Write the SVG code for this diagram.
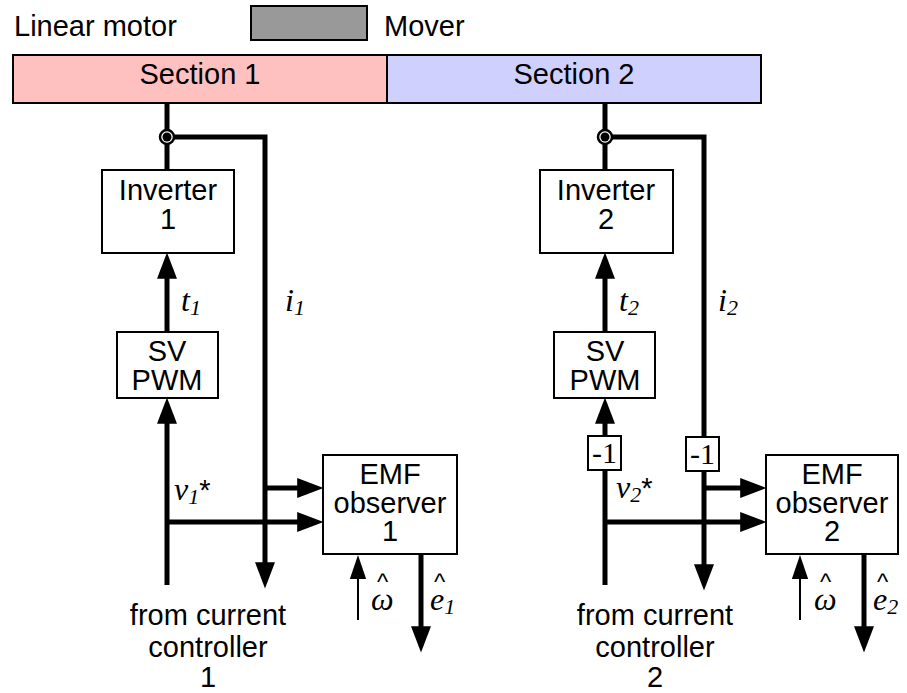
<svg xmlns="http://www.w3.org/2000/svg" width="907" height="693" viewBox="0 0 907 693">
<defs>
<style>
.t{font-family:"Liberation Sans",Arial,sans-serif;font-size:29px;fill:#000}
.c{text-anchor:middle}
.m{font-family:"Liberation Serif","Times New Roman",serif;font-style:italic;font-size:32px;fill:#000}
.n{font-family:"Liberation Serif","Times New Roman",serif;font-size:30px;fill:#000;text-anchor:middle}
.hat{font-family:"Liberation Sans",Arial,sans-serif;font-size:24px;fill:#000}
.box{fill:#fff;stroke:#000;stroke-width:2}
.w{fill:none;stroke:#000;stroke-width:5;stroke-linejoin:miter}
.thin{fill:none;stroke:#000;stroke-width:2}
</style>
<marker id="ah" markerUnits="userSpaceOnUse" markerWidth="27" markerHeight="20" refX="15" refY="9.5" orient="auto" viewBox="0 0 25 19">
<path d="M0,0 L25,9.5 L0,19 z" fill="#000"/>
</marker>
<marker id="ahs" markerUnits="userSpaceOnUse" markerWidth="24" markerHeight="18" refX="12" refY="7.5" orient="auto" viewBox="0 0 22 15">
<path d="M0,0 L22,7.5 L0,15 z" fill="#000"/>
</marker>
</defs>
<rect width="907" height="693" fill="#fff"/>

<g id="legend">
<text class="t" x="14" y="36">Linear motor</text>
<rect x="251" y="6" width="116" height="34" fill="#999" stroke="#000" stroke-width="2"/>
<text class="t" x="384" y="36">Mover</text>
</g>

<g id="section1">
<rect x="13" y="55" width="374" height="48" fill="#ffc0c0" stroke="#000" stroke-width="2"/>
<text class="t c" x="200" y="84">Section 1</text>
</g>
<g id="section2">
<rect x="387" y="55" width="374" height="48" fill="#d0d0ff" stroke="#000" stroke-width="2"/>
<text class="t c" x="574" y="84">Section 2</text>
</g>

<g id="connectors">
<!-- left -->
<line class="w" x1="167" y1="103" x2="167" y2="170"/>
<polyline class="w" points="167,137 265,137 265,578" marker-end="url(#ah)"/>
<line class="w" x1="167" y1="332" x2="167" y2="263" marker-end="url(#ah)"/>
<line class="w" x1="167" y1="585" x2="167" y2="408" marker-end="url(#ah)"/>
<line class="w" x1="167" y1="522" x2="313" y2="522" marker-end="url(#ah)"/>
<line class="w" x1="265" y1="488" x2="313" y2="488" marker-end="url(#ah)"/>
<line class="thin" x1="358" y1="620" x2="358" y2="566" marker-end="url(#ahs)"/>
<line class="w" x1="421" y1="554" x2="421" y2="642" marker-end="url(#ah)"/>
<circle cx="167" cy="137" r="7" fill="#fff" stroke="#000" stroke-width="2.5"/>
<circle cx="167" cy="137" r="4.5" fill="#000"/>
<!-- right -->
<line class="w" x1="605" y1="103" x2="605" y2="170"/>
<polyline class="w" points="605,137 704,137 704,580" marker-end="url(#ah)"/>
<line class="w" x1="605" y1="332" x2="605" y2="263" marker-end="url(#ah)"/>
<line class="w" x1="605" y1="585" x2="605" y2="408" marker-end="url(#ah)"/>
<line class="w" x1="605" y1="522" x2="756" y2="522" marker-end="url(#ah)"/>
<line class="w" x1="704" y1="488" x2="756" y2="488" marker-end="url(#ah)"/>
<line class="thin" x1="800" y1="620" x2="800" y2="566" marker-end="url(#ahs)"/>
<line class="w" x1="864" y1="554" x2="864" y2="642" marker-end="url(#ah)"/>
<circle cx="605" cy="137" r="7" fill="#fff" stroke="#000" stroke-width="2.5"/>
<circle cx="605" cy="137" r="4.5" fill="#000"/>
</g>

<g id="inverter1">
<rect class="box" x="102" y="170" width="132" height="83"/>
<text class="t c" x="168" y="200">Inverter</text>
<text class="t c" x="168" y="229">1</text>
</g>
<g id="svpwm1">
<rect class="box" x="117" y="332" width="101" height="66"/>
<text class="t c" x="167" y="361">SV</text>
<text class="t c" x="167" y="390">PWM</text>
</g>
<g id="emf1">
<rect class="box" x="323" y="455" width="134" height="99"/>
<text class="t c" x="390" y="484">EMF</text>
<text class="t c" x="390" y="513">observer</text>
<text class="t c" x="390" y="541">1</text>
</g>
<g id="inverter2">
<rect class="box" x="540" y="170" width="133" height="83"/>
<text class="t c" x="606" y="200">Inverter</text>
<text class="t c" x="606" y="229">2</text>
</g>
<g id="svpwm2">
<rect class="box" x="554" y="332" width="101" height="66"/>
<text class="t c" x="605" y="361">SV</text>
<text class="t c" x="605" y="390">PWM</text>
</g>
<g id="neg1">
<rect class="box" x="588" y="436" width="33" height="34"/>
<text class="n" x="604.5" y="463">-1</text>
</g>
<g id="neg2">
<rect class="box" x="686" y="437" width="33" height="34"/>
<text class="n" x="702.5" y="464">-1</text>
</g>
<g id="emf2">
<rect class="box" x="766" y="455" width="132" height="99"/>
<text class="t c" x="832" y="484">EMF</text>
<text class="t c" x="832" y="513">observer</text>
<text class="t c" x="832" y="541">2</text>
</g>

<g id="labels">
<text class="m" x="181" y="311">t<tspan font-size="22" dy="4">1</tspan></text>
<text class="m" x="285" y="311">i<tspan font-size="22" dy="4">1</tspan></text>
<text class="m" x="619" y="311">t<tspan font-size="22" dy="4">2</tspan></text>
<text class="m" x="718" y="311">i<tspan font-size="22" dy="4">2</tspan></text>
<text class="m" x="174" y="500">v<tspan font-size="22" dy="4">1</tspan><tspan class="t" style="font-style:normal" font-size="28" dy="-4">*</tspan></text>
<text class="m" x="616" y="498">v<tspan font-size="22" dy="4">2</tspan><tspan class="t" style="font-style:normal" font-size="28" dy="-4">*</tspan></text>
<text class="m" x="371" y="610">ω</text>
<text class="hat" x="377" y="590">^</text>
<text class="m" x="430" y="610">e<tspan font-size="22" dy="4">1</tspan></text>
<text class="hat" x="434" y="590">^</text>
<text class="m" x="814" y="610">ω</text>
<text class="hat" x="820" y="590">^</text>
<text class="m" x="873" y="610">e<tspan font-size="22" dy="4">2</tspan></text>
<text class="hat" x="877" y="590">^</text>
<text class="t c" x="208" y="625">from current</text>
<text class="t c" x="208" y="657">controller</text>
<text class="t c" x="208" y="687">1</text>
<text class="t c" x="655" y="625">from current</text>
<text class="t c" x="655" y="657">controller</text>
<text class="t c" x="655" y="687">2</text>
</g>
</svg>
